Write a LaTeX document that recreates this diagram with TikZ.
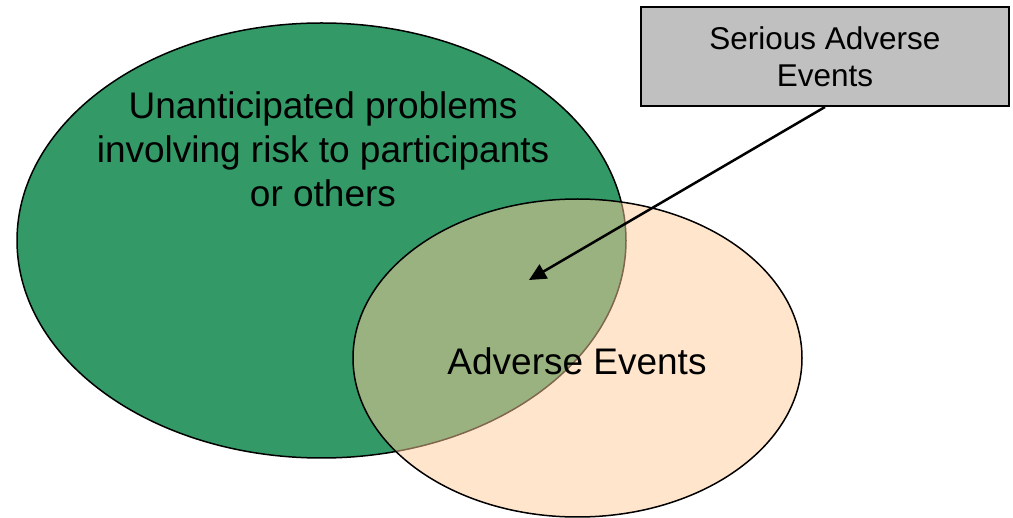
\documentclass[tikz,border=0pt]{standalone}
\usepackage{fontspec}
\setmainfont{Liberation Sans}
\usetikzlibrary{arrows.meta}
\definecolor{upgreen}{HTML}{339966}
\definecolor{aepeach}{HTML}{FFCC99}
\definecolor{saegray}{HTML}{C0C0C0}
\tikzset{
  bigtext/.style={font=\fontsize{37}{44}\selectfont, align=center, inner sep=0pt},
  boxtext/.style={font=\fontsize{31.5}{37.5}\selectfont, align=center},
  saebox/.style={draw=black, line width=2pt, fill=saegray, minimum width=368pt, minimum height=99pt, inner sep=0pt},
  pointer/.style={draw=black, line width=2.5pt, -{Triangle[length=17pt,width=16pt]}},
}
\begin{document}
\begin{tikzpicture}[x=1pt,y=-1pt]
\useasboundingbox (0,0) rectangle (1013,518);
% green ellipse
\draw[fill=upgreen, line width=1.5pt] (321.5,240.5) ellipse [x radius=304.5pt, y radius=217.5pt];
% peach ellipse, half transparent
\draw[fill=aepeach, fill opacity=0.5, line width=1.5pt] (577.5,358) ellipse [x radius=224.5pt, y radius=159pt];
\node[bigtext] (up) at (323,149) {Unanticipated problems\\involving risk to participants\\or others};
\node[bigtext, anchor=base] (ae) at (577,374.3) {Adverse Events};
\node[saebox, boxtext] (sae) at (825,56.5) {Serious Adverse\\Events};
\coordinate (tip) at (529,280);
\draw[pointer] (sae.south) -- (tip);
\end{tikzpicture}
\end{document}
